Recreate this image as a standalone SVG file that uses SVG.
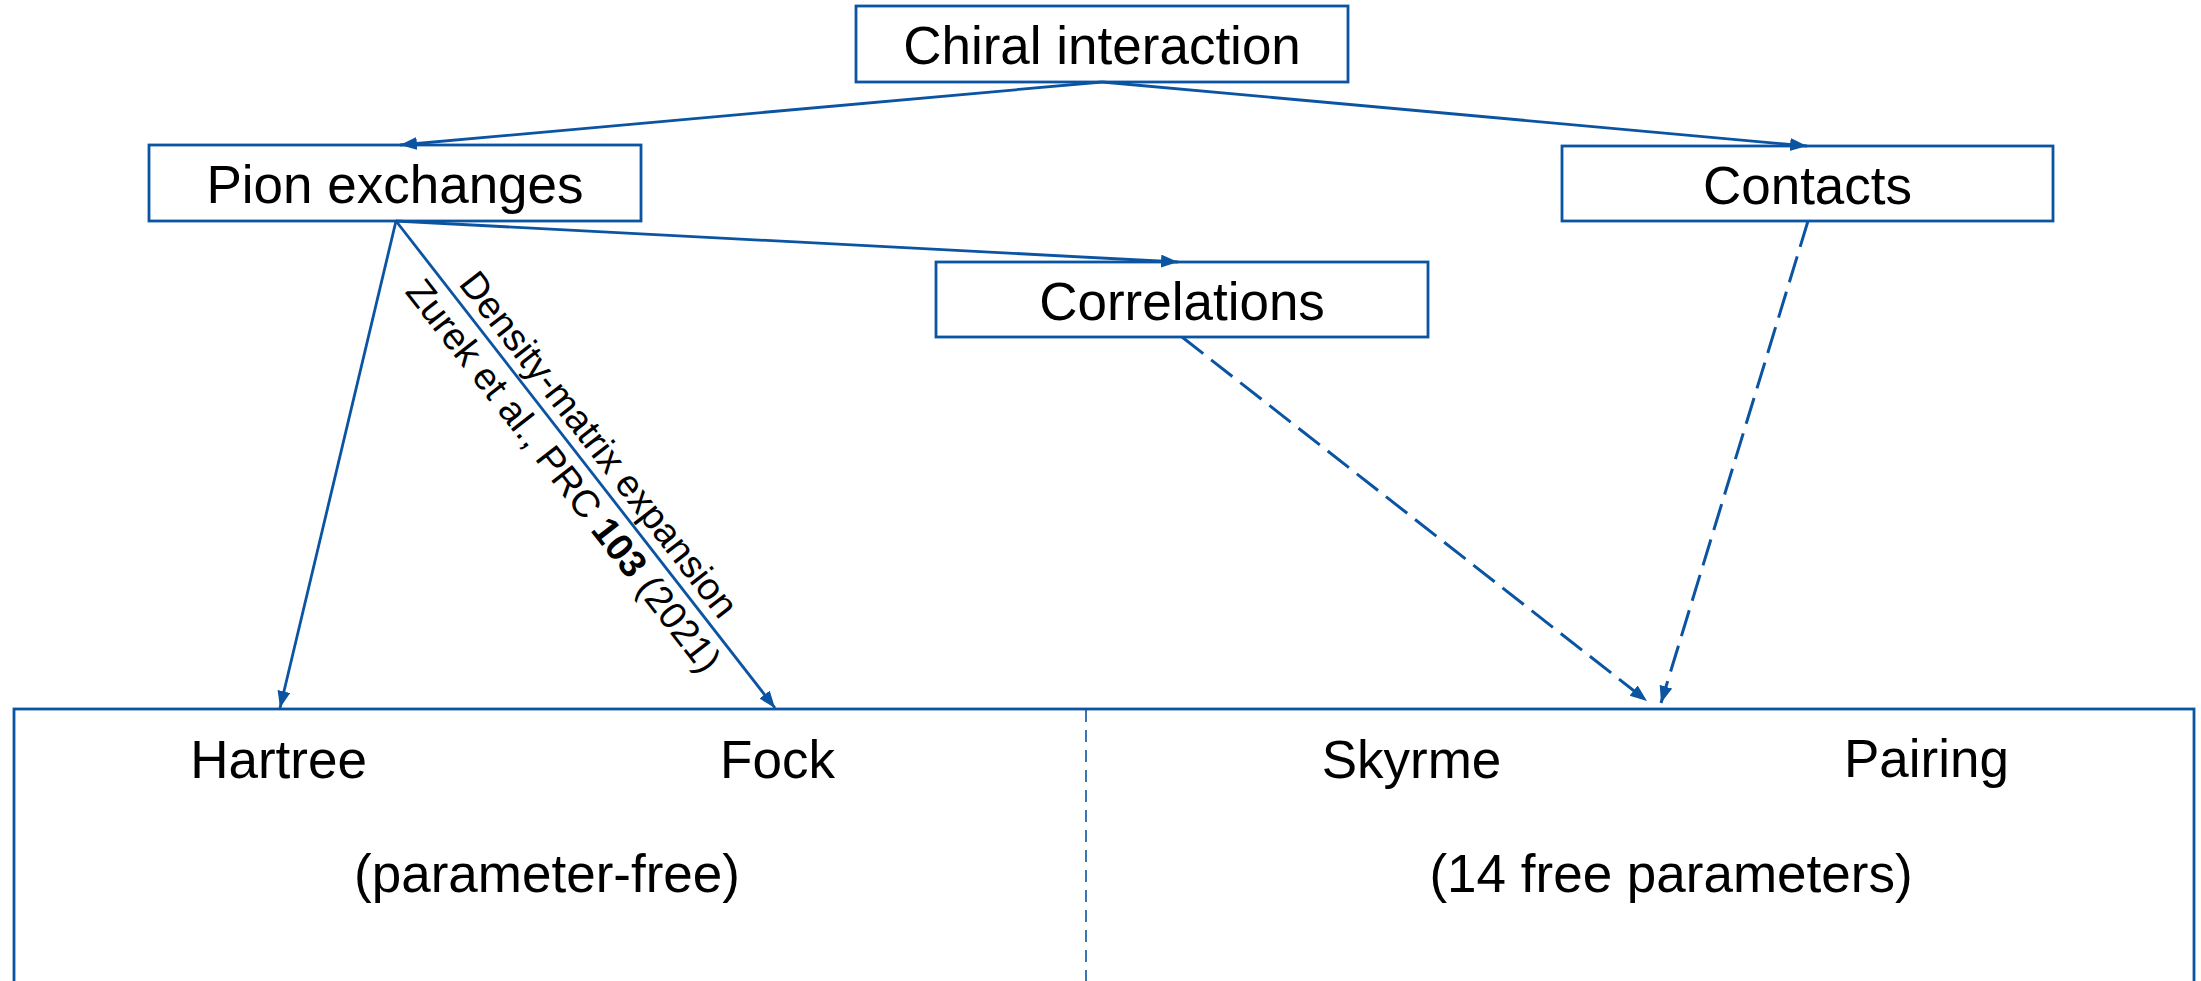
<svg xmlns="http://www.w3.org/2000/svg" width="2201" height="981" viewBox="0 0 2201 981">
<style>
.box{fill:#fff;stroke:#0b54a2;stroke-width:2.8}
.t{font-family:"Liberation Sans",Arial,sans-serif;font-size:53px;fill:#000;text-anchor:middle}
.s{font-family:"Liberation Sans",Arial,sans-serif;font-size:38px;fill:#000;text-anchor:middle}
.c{fill:none;stroke:#0b54a2;stroke-width:2.8}
.d{stroke-dasharray:27 10;stroke-width:3}
</style>
<defs>
<marker id="ah" markerUnits="userSpaceOnUse" markerWidth="18" markerHeight="14" refX="17" refY="6.5" orient="auto">
<path d="M0,0 L17,6.5 L0,13 z" fill="#0b54a2"/>
</marker>
</defs>
<rect width="2201" height="981" fill="#fff"/>
<g id="bottom">
<rect class="box" x="14" y="709" width="2180" height="300"/>
<line x1="1086" y1="710" x2="1086" y2="981" stroke="#0b54a2" stroke-width="1.6" stroke-dasharray="12 8"/>
<text class="t" x="278.5" y="778">Hartree</text>
<text class="t" x="777.5" y="778">Fock</text>
<text class="t" x="547" y="892">(parameter-free)</text>
<text class="t" x="1411.5" y="778">Skyrme</text>
<text class="t" x="1926.5" y="777">Pairing</text>
<text class="t" x="1671" y="892">(14 free parameters)</text>
</g>
<g id="chiral">
<rect class="box" x="856" y="6" width="492" height="76"/>
<text class="t" x="1102" y="64">Chiral interaction</text>
</g>
<g id="pion">
<rect class="box" x="149" y="145" width="492" height="76"/>
<text class="t" x="395" y="202.5">Pion exchanges</text>
</g>
<g id="contacts">
<rect class="box" x="1562" y="146" width="491" height="75"/>
<text class="t" x="1807.5" y="204">Contacts</text>
</g>
<g id="correlations">
<rect class="box" x="936" y="262" width="492" height="75"/>
<text class="t" x="1182" y="320">Correlations</text>
</g>
<g id="connectors">
<line class="c" x1="1102" y1="82" x2="400" y2="145" marker-end="url(#ah)"/>
<line class="c" x1="1102" y1="82" x2="1807" y2="146" marker-end="url(#ah)"/>
<line class="c" x1="396" y1="221" x2="1178" y2="262" marker-end="url(#ah)"/>
<line class="c" x1="396" y1="221" x2="280" y2="708" marker-end="url(#ah)"/>
<line class="c" x1="396" y1="221" x2="775" y2="708" marker-end="url(#ah)"/>
<line class="c d" x1="1182" y1="337" x2="1647" y2="701" marker-end="url(#ah)"/>
<line class="c d" x1="1808" y1="221" x2="1661" y2="703" marker-end="url(#ah)"/>
<text class="s" transform="translate(588.7,452.4) rotate(52.1)">Density-matrix expansion</text>
<text class="s" transform="translate(553.5,483.6) rotate(52.1)">Zurek et al., PRC <tspan font-weight="bold">103</tspan> (2021)</text>
</g>
</svg>
